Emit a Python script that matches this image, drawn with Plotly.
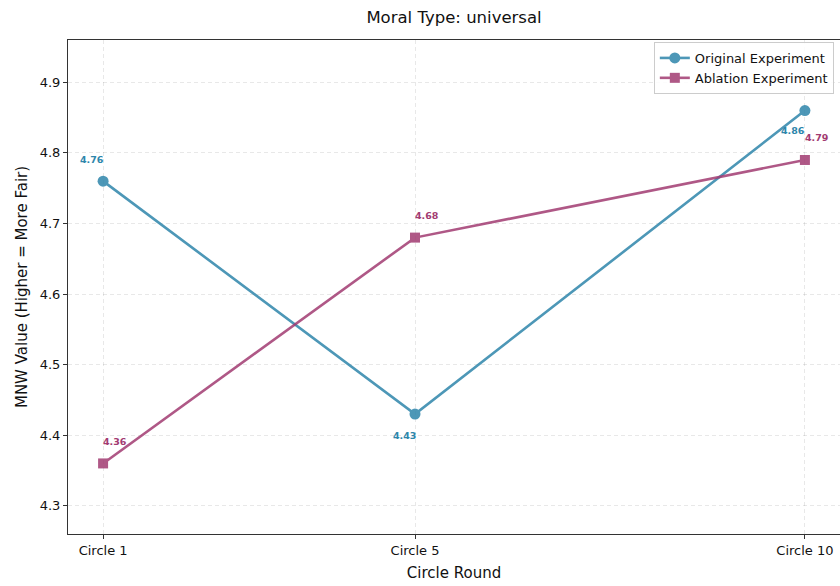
import plotly.graph_objects as go

# Data
rounds = [1, 5, 10]
round_labels = ["Circle 1", "Circle 5", "Circle 10"]
original_values = [4.76, 4.43, 4.86]
ablation_values = [4.36, 4.68, 4.79]

BLUE = "#2E86AB"
PURPLE = "#A23B72"
FONT = "DejaVu Sans, Verdana, sans-serif"

fig = go.Figure()
fig.add_trace(go.Scatter(
    x=rounds, y=original_values, mode="lines+markers", name="Original Experiment",
    line=dict(color=BLUE, width=2.6), opacity=0.85,
    marker=dict(symbol="circle", size=11, color=BLUE),
))
fig.add_trace(go.Scatter(
    x=rounds, y=ablation_values, mode="lines+markers", name="Ablation Experiment",
    line=dict(color=PURPLE, width=2.6), opacity=0.85,
    marker=dict(symbol="square", size=10, color=PURPLE),
))

# Value labels
orig_shift = [(-11, 22), (-11, -21), (-12, -20)]
for x, y, (dx, dy) in zip(rounds, original_values, orig_shift):
    fig.add_annotation(x=x, y=y, text=f"{y:.2f}", showarrow=False,
                       xshift=dx, yshift=dy,
                       font=dict(family=FONT, size=9.5, color=BLUE, weight="bold"))
for x, y in zip(rounds, ablation_values):
    fig.add_annotation(x=x, y=y, text=f"{y:.2f}", showarrow=False,
                       xshift=12, yshift=22,
                       font=dict(family=FONT, size=9.5, color=PURPLE, weight="bold"))

grid = "rgba(0,0,0,0.09)"
fig.update_layout(
    width=840, height=586,
    margin=dict(l=68, r=0, t=40, b=52),
    paper_bgcolor="white", plot_bgcolor="white",
    font=dict(family=FONT, size=13, color="#111"),
    title=dict(text="Moral Type: universal", x=(454) / 840, xanchor="center",
               y=1 - 17 / 586, yanchor="middle",
               font=dict(family=FONT, size=16.5, color="#111")),
    legend=dict(x=0.992, y=0.996, xanchor="right", yanchor="top",
                bgcolor="rgba(255,255,255,0.85)", bordercolor="#ccc", borderwidth=1,
                font=dict(family=FONT, size=13, color="#111"),
                tracegroupgap=0, itemwidth=30),
    showlegend=True,
)
fig.update_xaxes(
    range=[0.55, 10.45], tickmode="array", tickvals=rounds, ticktext=round_labels,
    showline=True, linecolor="#333", linewidth=1, mirror=True,
    ticks="outside", ticklen=4, tickcolor="#333",
    showgrid=True, gridcolor=grid, griddash="4px,3px", gridwidth=1, zeroline=False,
    title=dict(text="Circle Round", font=dict(family=FONT, size=15, color="#111"), standoff=10),
    tickfont=dict(family=FONT, size=13, color="#111"),
)
fig.update_yaxes(
    range=[4.26, 4.96], tickmode="array", tickvals=[4.3, 4.4, 4.5, 4.6, 4.7, 4.8, 4.9],
    ticktext=["4.3", "4.4", "4.5", "4.6", "4.7", "4.8", "4.9"],
    showline=True, linecolor="#333", linewidth=1, mirror=False,
    ticks="outside", ticklen=4, tickcolor="#333",
    showgrid=True, gridcolor=grid, griddash="4px,3px", gridwidth=1, zeroline=False,
    title=dict(text="MNW Value (Higher = More Fair)", font=dict(family=FONT, size=15, color="#111"), standoff=8),
    tickfont=dict(family=FONT, size=13, color="#111"),
)

fig.write_html("out.html")
